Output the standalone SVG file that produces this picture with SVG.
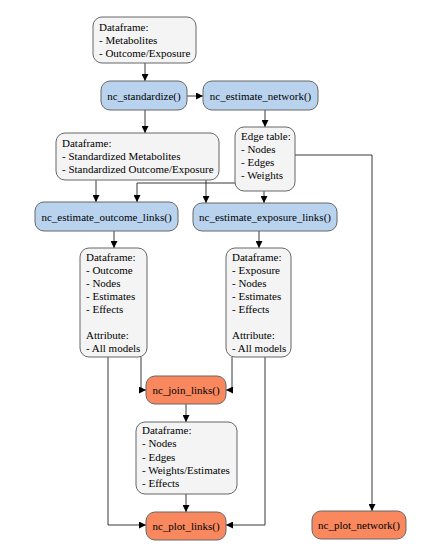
<svg xmlns="http://www.w3.org/2000/svg" width="440" height="556" viewBox="0 0 440 556">
<defs>
<marker id="ah" viewBox="0 0 10 10" refX="10" refY="5" markerWidth="7" markerHeight="7" markerUnits="userSpaceOnUse" orient="auto">
<path d="M0,0 L10,5 L0,10 z" fill="#000"/>
</marker>
</defs>
<style>
text{font-size:11px;fill:#000}
.c{text-anchor:middle}
.g{fill:#f4f4f4;stroke:#666;stroke-width:1}
.b{fill:#b9d3ef;stroke:#666;stroke-width:1}
.o{fill:#f9885f;stroke:#666;stroke-width:1}
.e{fill:none;stroke:#222;stroke-width:0.9;marker-end:url(#ah)}
</style>
<rect width="440" height="556" fill="#fff"/>
<g id="connectors">
<path class="e" d="M145,63 V81"/>
<path class="e" d="M187,96 H203"/>
<path class="e" d="M145,110 V133"/>
<path class="e" d="M265,110 V127"/>
<path class="e" d="M96,180 V202"/>
<path class="e" d="M235,183 H137 V202"/>
<path class="e" d="M206,180 V203"/>
<path class="e" d="M264,191 V203"/>
<path class="e" d="M295,155 H372 V511"/>
<path class="e" d="M114,231 V248"/>
<path class="e" d="M259,231 V248"/>
<path class="e" d="M141,357 V390 H146"/>
<path class="e" d="M232,357 V390 H226"/>
<path class="e" d="M108,357 V525 H146"/>
<path class="e" d="M265,357 V525 H226"/>
<path class="e" d="M186,404 V422"/>
<path class="e" d="M186,494 V512"/>
</g>
<g font-family="Liberation Serif, Times New Roman, serif">
<g id="input_df">
<rect class="g" x="93" y="17" width="103" height="46" rx="9"/>
<text x="99" y="31">Dataframe:</text>
<text x="99" y="44">- Metabolites</text>
<text x="99" y="57">- Outcome/Exposure</text>
</g>
<g id="nc_standardize">
<rect class="b" x="101" y="81" width="86" height="29" rx="9"/>
<text class="c" x="144" y="99.5">nc_standardize()</text>
</g>
<g id="nc_estimate_network">
<rect class="b" x="203" y="81" width="115" height="29" rx="9"/>
<text class="c" x="260.5" y="99.5">nc_estimate_network()</text>
</g>
<g id="std_df">
<rect class="g" x="56" y="133" width="163" height="47" rx="9"/>
<text x="62" y="147">Dataframe:</text>
<text x="62" y="160">- Standardized Metabolites</text>
<text x="62" y="173">- Standardized Outcome/Exposure</text>
</g>
<g id="edge_table">
<rect class="g" x="235" y="127" width="60" height="64" rx="9"/>
<text x="241" y="140">Edge table:</text>
<text x="241" y="153">- Nodes</text>
<text x="241" y="166">- Edges</text>
<text x="241" y="179">- Weights</text>
</g>
<g id="nc_estimate_outcome_links">
<rect class="b" x="35" y="202" width="143" height="29" rx="9"/>
<text class="c" x="106.5" y="220.5">nc_estimate_outcome_links()</text>
</g>
<g id="nc_estimate_exposure_links">
<rect class="b" x="193" y="203" width="144" height="28" rx="9"/>
<text class="c" x="265" y="220.5">nc_estimate_exposure_links()</text>
</g>
<g id="outcome_df">
<rect class="g" x="80" y="248" width="67" height="109" rx="9"/>
<text x="86" y="261">Dataframe:</text>
<text x="86" y="274">- Outcome</text>
<text x="86" y="287">- Nodes</text>
<text x="86" y="300">- Estimates</text>
<text x="86" y="313">- Effects</text>
<text x="86" y="339">Attribute:</text>
<text x="86" y="352">- All models</text>
</g>
<g id="exposure_df">
<rect class="g" x="226" y="248" width="65" height="109" rx="9"/>
<text x="232" y="261">Dataframe:</text>
<text x="232" y="274">- Exposure</text>
<text x="232" y="287">- Nodes</text>
<text x="232" y="300">- Estimates</text>
<text x="232" y="313">- Effects</text>
<text x="232" y="339">Attribute:</text>
<text x="232" y="352">- All models</text>
</g>
<g id="nc_join_links">
<rect class="o" x="146" y="376" width="80" height="28" rx="9"/>
<text class="c" x="186" y="394">nc_join_links()</text>
</g>
<g id="joined_df">
<rect class="g" x="136" y="422" width="101" height="72" rx="9"/>
<text x="142" y="434">Dataframe:</text>
<text x="142" y="447">- Nodes</text>
<text x="142" y="461">- Edges</text>
<text x="142" y="474">- Weights/Estimates</text>
<text x="142" y="487">- Effects</text>
</g>
<g id="nc_plot_links">
<rect class="o" x="146" y="512" width="80" height="28" rx="9"/>
<text class="c" x="186" y="530">nc_plot_links()</text>
</g>
<g id="nc_plot_network">
<rect class="o" x="312" y="511" width="94" height="28" rx="9"/>
<text class="c" x="359" y="529">nc_plot_network()</text>
</g>
</g>
</svg>
